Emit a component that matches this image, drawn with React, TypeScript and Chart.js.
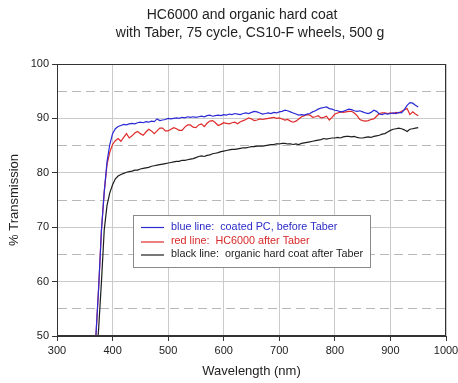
import React, { useEffect, useRef } from "react";
import { Chart, registerables } from "chart.js";

Chart.register(...registerables);

const titleLines = ["HC6000 and organic hard coat", "with Taber, 75 cycle, CS10-F wheels, 500 g"];
const xTitle = "Wavelength (nm)";
const yTitle = "% Transmission";

const wavelengths = [
  365, 370, 375, 380, 385, 390, 395, 400, 405, 410,
  415, 420, 425, 430, 435, 440, 445, 450, 455, 460,
  465, 470, 475, 480, 485, 490, 495, 500, 505, 510,
  515, 520, 525, 530, 535, 540, 545, 550, 555, 560,
  565, 570, 575, 580, 585, 590, 595, 600, 605, 610,
  615, 620, 625, 630, 635, 640, 645, 650, 655, 660,
  665, 670, 675, 680, 685, 690, 695, 700, 705, 710,
  715, 720, 725, 730, 735, 740, 745, 750, 755, 760,
  765, 770, 775, 780, 785, 790, 795, 800, 805, 810,
  815, 820, 825, 830, 835, 840, 845, 850, 855, 860,
  865, 870, 875, 880, 885, 890, 895, 900, 905, 910,
  915, 920, 925, 930, 935, 940, 945, 950,
];

const blueCoatedPC = [
  44, 50, 59, 69.5, 76.5, 82, 85.2, 87.2, 88.1, 88.5,
  88.7, 88.9, 88.8, 89.0, 89.1, 89.0, 89.2, 89.3, 89.2, 89.4,
  89.3, 89.5, 89.4, 89.9, 89.6, 89.7, 89.8, 90.0, 89.9, 90.0,
  90.1, 90.0, 90.2, 90.1, 90.3, 90.2, 90.3, 90.2, 90.3, 90.4,
  90.3, 90.5, 90.6, 90.4, 90.5, 90.6, 90.5, 90.7, 90.6, 90.8,
  90.7, 90.9, 90.8, 90.7, 90.9, 91.0, 90.9, 91.1, 91.3, 91.2,
  91.0, 90.8, 90.9, 91.0, 90.9, 91.1, 91.0, 91.2, 91.3, 91.5,
  91.4, 91.2, 91.0, 90.8, 90.6, 90.7, 90.6, 90.8, 90.9, 91.2,
  91.4, 91.7, 91.9, 92.0, 92.1, 91.8, 91.7, 91.5, 91.4, 91.2,
  91.3, 91.5, 91.7, 91.6, 91.4, 91.3, 91.4, 91.2, 91.0, 90.9,
  91.1, 91.5, 91.3, 90.8, 90.7, 90.9, 90.8, 90.9, 91.0, 90.9,
  91.1, 91.0, 91.6, 92.4, 92.9, 92.8, 92.4, 92.1,
];

const redHC6000 = [
  44, 50, 59, 69.5, 76.5, 81.5, 83.8, 85.2, 85.9, 86.3,
  85.8, 86.5, 87.2, 86.4, 86.8, 87.3, 87.6, 87.2, 86.9, 87.5,
  88.0, 87.7, 87.2, 87.7, 88.2, 88.2, 87.7, 87.7, 88.0, 88.3,
  88.1, 87.8, 87.8, 88.4, 88.8, 88.8, 88.4, 88.3, 88.8, 89.0,
  88.5, 89.1, 89.5, 89.6, 89.2, 88.7, 88.9, 89.2, 89.1, 89.0,
  89.2, 89.3, 89.0, 89.4, 89.6, 89.8, 90.1, 89.9, 89.6, 89.7,
  89.9, 89.8, 89.9, 90.0, 90.1, 90.2, 90.0, 90.1, 89.9, 89.7,
  89.8, 89.5, 89.3, 89.5, 89.9, 90.3, 90.5, 90.7, 90.6, 90.2,
  90.3, 90.5, 90.1, 90.2, 90.4, 89.7, 90.2, 90.8, 91.0, 91.2,
  91.1, 91.2, 91.3, 91.3, 91.0, 90.5, 89.8, 89.6, 89.5, 89.6,
  89.8, 89.9, 90.4, 90.9, 91.0, 91.0, 90.9, 91.0, 90.9, 91.1,
  91.0, 91.3, 91.6, 91.8, 90.7, 91.2, 90.8, 90.5,
];

const blackOrganic = [
  40, 44, 51.5, 60, 69.5, 74, 76.3, 77.8, 78.9, 79.4,
  79.7, 79.9, 80.1, 80.2, 80.3, 80.5, 80.5, 80.7, 80.8, 80.9,
  81.0, 81.2, 81.3, 81.4, 81.5, 81.6, 81.7, 81.8, 81.9, 82.0,
  82.1, 82.1, 82.3, 82.3, 82.4, 82.5, 82.6, 82.8, 83.0, 83.1,
  83.0, 83.2, 83.3, 83.5, 83.6, 83.7, 83.9, 84.0, 84.1, 84.2,
  84.3, 84.3, 84.4, 84.5, 84.6, 84.6, 84.7, 84.8, 84.8, 84.9,
  84.9, 84.9, 85.0, 85.1, 85.2, 85.2, 85.3, 85.3, 85.4, 85.4,
  85.3, 85.3, 85.2, 85.3, 85.2, 85.4, 85.5, 85.6, 85.7, 85.8,
  85.9, 86.0, 86.1, 86.3, 86.2, 86.3, 86.4, 86.4, 86.5, 86.4,
  86.6, 86.7, 86.7, 86.6, 86.7, 86.5, 86.4, 86.4, 86.5, 86.6,
  86.5, 86.7, 86.8, 86.9, 87.1, 87.2, 87.5, 87.8, 88.0, 88.1,
  88.2, 88.1, 87.9, 87.6, 88.0, 88.1, 88.2, 88.3,
];

const seriesLabels = [
  "blue line:  coated PC, before Taber",
  "red line:  HC6000 after Taber",
  "black line:  organic hard coat after Taber",
];
const lineColors = ["#2b2bd6", "#e02a2a", "#1e1e1e"];
const legendTextColors = ["#2b2bc8", "#d82828", "#1e1e1e"];

const FONT = '"Liberation Sans", Arial, Helvetica, sans-serif';

const decorPlugin = {
  id: "decor",
  afterDatasetsDraw(chart: any) {
    const { ctx, chartArea: a } = chart;
    ctx.save();
    ctx.strokeStyle = "#333";
    ctx.lineWidth = 1;
    ctx.setLineDash([]);
    ctx.strokeRect(
      Math.round(a.left) + 0.5,
      Math.round(a.top) + 0.5,
      Math.round(a.right - a.left) - 1,
      Math.round(a.bottom - a.top) - 1
    );
    const bx = 133.5, by = 215.5, bw = 237, bh = 52;
    ctx.fillStyle = "#fff";
    ctx.fillRect(bx, by, bw, bh);
    ctx.strokeStyle = "#8a8a8a";
    ctx.strokeRect(bx, by, bw, bh);
    ctx.font = `10.8px ${FONT}`;
    ctx.textBaseline = "middle";
    ctx.textAlign = "left";
    const rows = [227, 241.5, 254.5];
    chart.data.datasets.forEach((ds: any, i: number) => {
      const y = rows[i];
      ctx.strokeStyle = ds.borderColor;
      ctx.lineWidth = 1.2;
      ctx.beginPath();
      ctx.moveTo(141, y + 0.5);
      ctx.lineTo(164, y + 0.5);
      ctx.stroke();
      ctx.fillStyle = legendTextColors[i];
      ctx.fillText(ds.label, 171, y);
    });
    ctx.restore();
  },
  afterDraw(chart: any) {
    const { ctx } = chart;
    ctx.save();
    ctx.fillStyle = "#222";
    ctx.font = `14px ${FONT}`;
    ctx.textAlign = "center";
    ctx.textBaseline = "middle";
    ctx.fillText(titleLines[0], 242, 15);
    ctx.fillText(titleLines[1], 250, 33);
    ctx.restore();
  },
};

export default function App() {
  const ref = useRef<HTMLCanvasElement>(null);
  useEffect(() => {
    const mk = (vals: number[]) => wavelengths.map((w, i) => ({ x: w, y: vals[i] }));
    const values = [blueCoatedPC, redHC6000, blackOrganic];
    const chart = new Chart(ref.current as HTMLCanvasElement, {
      type: "line",
      data: {
        datasets: values.map((v, i) => ({
          label: seriesLabels[i],
          data: mk(v),
          borderColor: lineColors[i],
          backgroundColor: lineColors[i],
          borderWidth: 1.2,
          pointRadius: 0,
          tension: 0,
          fill: false,
        })),
      },
      options: {
        responsive: false,
        animation: false,
        devicePixelRatio: 1,
        layout: { padding: { top: 64, right: 12, left: 0, bottom: 0 } },
        plugins: {
          legend: { display: false },
          title: { display: false },
          tooltip: { enabled: false },
        },
        scales: {
          x: {
            type: "linear",
            min: 300,
            max: 1000,
            afterFit: (s: any) => {
              s.height = 47;
              s.paddingLeft = 0;
              s.paddingRight = 0;
            },
            ticks: {
              stepSize: 100,
              font: { size: 11, family: FONT },
              color: "#222",
              padding: 3,
              maxRotation: 0,
              autoSkip: false,
              callback: (v: any) => String(v),
            },
            grid: {
              color: "#cacaca",
              lineWidth: 1,
              tickColor: "#333",
              tickLength: 5,
            },
            border: { display: true, color: "#333", width: 1 },
            title: {
              display: true,
              text: xTitle,
              font: { size: 13, family: FONT },
              color: "#222",
              padding: { top: 0, bottom: 4 },
            },
          },
          y: {
            type: "linear",
            min: 50,
            max: 100,
            afterFit: (s: any) => {
              s.width = 57;
              s.paddingTop = 0;
              s.paddingBottom = 0;
            },
            ticks: {
              stepSize: 5,
              font: { size: 11, family: FONT },
              color: "#222",
              padding: 3,
              autoSkip: false,
              callback: (v: any) => (Number(v) % 10 === 0 ? String(v) : ""),
            },
            grid: {
              color: (c: any) =>
                c.tick && c.tick.value % 10 !== 0 ? "#b8b8b8" : "#cacaca",
              lineWidth: 1,
              tickColor: (c: any) =>
                c.tick && c.tick.value % 10 !== 0 ? "rgba(0,0,0,0)" : "#333",
              tickLength: 5,
            },
            border: {
              display: true,
              color: "#333",
              width: 1,
              dash: (c: any) => (c.tick && c.tick.value % 10 !== 0 ? [9, 5] : []),
            } as any,
            title: {
              display: true,
              text: yTitle,
              font: { size: 13, family: FONT },
              color: "#222",
              padding: { top: 7, bottom: 0 },
            },
          },
        },
      },
      plugins: [decorPlugin],
    } as any);
    return () => chart.destroy();
  }, []);
  return (
    <div
      style={{
        position: "fixed",
        left: 0,
        top: 0,
        width: 458,
        height: 383,
        background: "#fff",
      }}
    >
      <canvas
        ref={ref}
        width={458}
        height={383}
        style={{ display: "block", width: 458, height: 383 }}
      />
    </div>
  );
}
